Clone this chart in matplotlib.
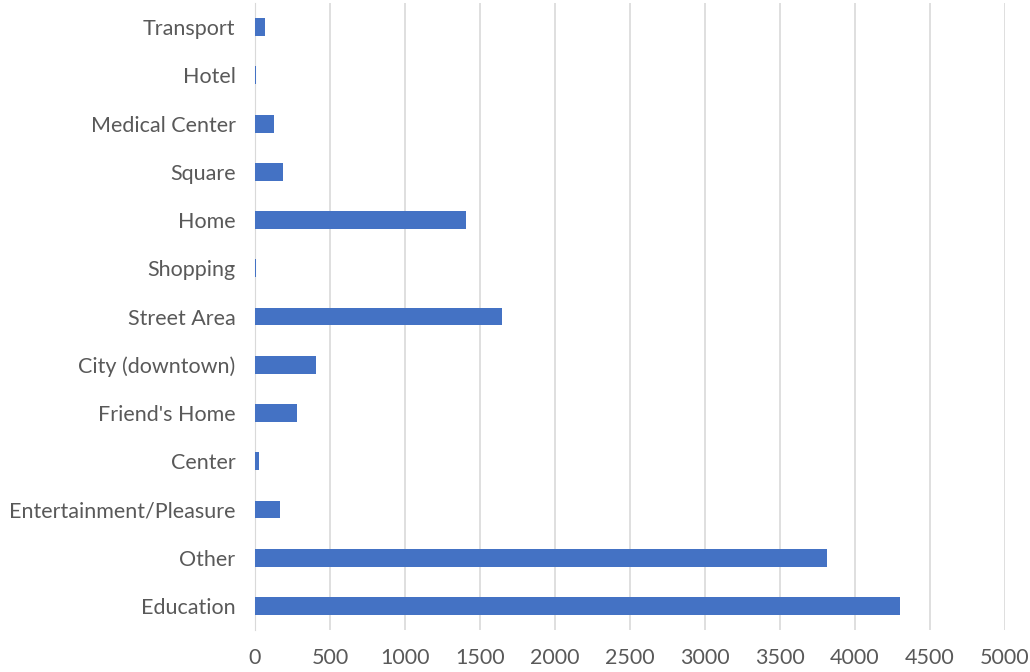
import matplotlib
matplotlib.use("Agg")
import matplotlib.pyplot as plt

# categories listed bottom to top
places = ["Education", "Other", "Entertainment/Pleasure", "Center", "Friend's Home",
          "City (downtown)", "Street Area", "Shopping", "Home", "Square",
          "Medical Center", "Hotel", "Transport"]
counts = [4300, 3813, 169, 29, 280, 404, 1649, 5, 1409, 187, 124, 7, 69]
xticks = [0, 500, 1000, 1500, 2000, 2500, 3000, 3500, 4000, 4500, 5000]

plt.rcParams['font.family'] = ['Lato', 'DejaVu Sans']

fig = plt.figure(figsize=(10.3, 6.72), dpi=100)
ax = fig.add_axes([0.2476, 0.0625, 0.7281, 0.933])

ypos = range(len(places))
ax.barh(ypos, counts, height=0.37, color="#4472C4", zorder=3)

ax.set_xlim(0, 5000)
ax.set_ylim(-0.5, len(places) - 0.5)
ax.set_xticks(xticks)
ax.set_yticks(list(ypos))
ax.set_yticklabels(places)
ax.grid(axis="x", color="#D9D9D9", linewidth=1.2, zorder=0)
for s in ["top", "right", "bottom"]:
    ax.spines[s].set_visible(False)
ax.spines["left"].set_color("#D9D9D9")
ax.spines["left"].set_zorder(1)
ax.tick_params(axis="both", length=0, labelsize=15.5, labelcolor="#595959")
ax.tick_params(axis="y", pad=14)
ax.tick_params(axis="x", pad=13)

fig.savefig("out.png", dpi=100)
